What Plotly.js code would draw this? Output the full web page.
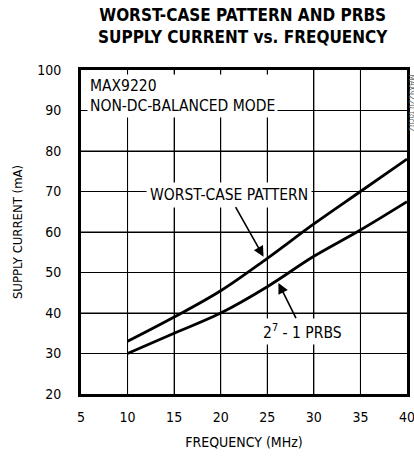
<!DOCTYPE html>
<html>
<head>
<meta charset="utf-8">
<script src="https://cdn.plot.ly/plotly-3.0.1.min.js"></script>
<style>html,body{margin:0;padding:0;background:#fff;}#chart{width:414px;height:456px;}</style>
</head>
<body>
<div id="chart"></div>
<script>
const freq = [10, 15, 20, 25, 30, 35, 40];
const worstCase = [33, 39, 45.5, 53.5, 62, 70, 78];
const prbs = [30, 35, 40, 46.5, 54, 60.5, 67.5];
const xTicks = [5, 10, 15, 20, 25, 30, 35, 40];
const yTicks = [20, 30, 40, 50, 60, 70, 80, 90, 100];

const F = 'DejaVu Sans Condensed, Liberation Sans, Arial, sans-serif';

const traces = [
  {x: freq, y: worstCase, mode: 'lines', line: {color: '#000', width: 2.8, shape: 'spline'}, hoverinfo: 'skip'},
  {x: freq, y: prbs, mode: 'lines', line: {color: '#000', width: 2.8, shape: 'spline'}, hoverinfo: 'skip'}
];

// grid lines built from the tick arrays, positioned through the axes' own scales
const xMin = xTicks[0], xMax = xTicks[xTicks.length - 1];
const yMin = yTicks[0], yMax = yTicks[yTicks.length - 1];
const gridShapes = [];
xTicks.slice(1, -1).forEach(v => gridShapes.push({type: 'line', xref: 'x', yref: 'y', x0: v, x1: v, y0: yMin, y1: yMax, layer: 'above', line: {color: '#000', width: 1}}));
yTicks.slice(1, -1).forEach(v => gridShapes.push({type: 'line', xref: 'x', yref: 'y', x0: xMin, x1: xMax, y0: v, y1: v, layer: 'above', line: {color: '#000', width: 1}}));

const layout = {
  width: 414, height: 456,
  margin: {l: 81, r: 7, t: 70, b: 62},
  paper_bgcolor: '#fff', plot_bgcolor: '#fff',
  showlegend: false,
  font: {family: F, color: '#000', size: 14},
  shapes: gridShapes,
  xaxis: {
    range: [xMin, xMax], tickmode: 'array', tickvals: xTicks, ticktext: xTicks.map(String),
    showgrid: true, gridcolor: '#000000', gridwidth: 1,
    showline: true, linecolor: '#000', linewidth: 3, mirror: true,
    ticks: 'inside', ticklen: 0, zeroline: false, ticklabelstandoff: 8, ticklabeloverflow: 'allow',
    tickfont: {family: F, size: 14, color: '#000'},
    title: {text: 'FREQUENCY (MHz)', font: {family: F, size: 14, color: '#000'}, standoff: 14},
    layer: 'above traces'
  },
  yaxis: {
    range: [yMin, yMax], tickmode: 'array', tickvals: yTicks, ticktext: yTicks.map(String),
    showgrid: true, gridcolor: '#000000', gridwidth: 1,
    showline: true, linecolor: '#000', linewidth: 3, mirror: true,
    ticks: 'inside', ticklen: 0, zeroline: false, ticklabelstandoff: 14,
    tickfont: {family: F, size: 14, color: '#000'},
    title: {text: 'SUPPLY CURRENT (mA)', font: {family: F, size: 13, color: '#000'}, standoff: 12},
    layer: 'above traces'
  },
  annotations: [
    {xref: 'paper', yref: 'paper', x: 0.497, y: 1, yshift: 67, xanchor: 'center', yanchor: 'top',
     text: '<b>WORST-CASE PATTERN AND PRBS<br>SUPPLY CURRENT vs. FREQUENCY</b>', showarrow: false,
     font: {family: F, size: 17, color: '#000'}},
    {xref: 'paper', yref: 'paper', x: 0, y: 1, xshift: 6, yshift: -4, xanchor: 'left', yanchor: 'top', align: 'left',
     text: 'MAX9220<br>NON-DC-BALANCED MODE', showarrow: false, bgcolor: '#fff', borderpad: 2,
     font: {family: F, size: 15.5, color: '#000'}},
    {xref: 'x', yref: 'y', x: 24.6, y: 53.9, ax: -35, ay: -62, text: 'WORST-CASE PATTERN',
     showarrow: true, arrowhead: 2, arrowsize: 1.3, arrowwidth: 1.6, arrowcolor: '#000',
     bgcolor: '#fff', borderpad: 3, font: {family: F, size: 15.5, color: '#000'}},
    {xref: 'x', yref: 'y', x: 26.2, y: 47.4, ax: 24, ay: 48, text: '2<sup>7</sup> - 1 PRBS',
     showarrow: true, arrowhead: 2, arrowsize: 1.3, arrowwidth: 1.6, arrowcolor: '#000',
     bgcolor: '#fff', borderpad: 2, font: {family: F, size: 15.5, color: '#000'}},
    {xref: 'paper', yref: 'paper', x: 1, y: 1, xshift: 4, yshift: -2, xanchor: 'center', yanchor: 'top',
     text: 'MAX9220 toc02', textangle: 90, showarrow: false, font: {family: F, size: 8, color: '#666'}}
  ]
};

Plotly.newPlot('chart', traces, layout, {staticPlot: true, displayModeBar: false});
</script>
</body>
</html>
